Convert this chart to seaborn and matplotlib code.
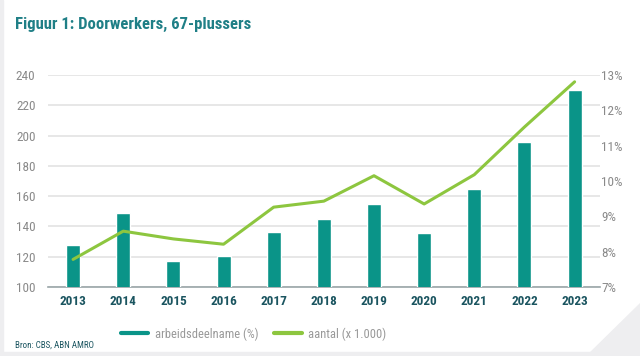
import numpy as np
import pandas as pd
import matplotlib
matplotlib.use("Agg")
import matplotlib.pyplot as plt
import seaborn as sns
from matplotlib.lines import Line2D
from matplotlib.patches import Polygon, Rectangle

# Data
jaren = ['2013', '2014', '2015', '2016', '2017', '2018', '2019', '2020', '2021', '2022', '2023']
arbeidsdeelname = [127.5, 149, 117, 120.5, 136, 145, 155, 135.5, 165, 196, 230]
aantal = [7.78, 8.58, 8.36, 8.21, 9.26, 9.43, 10.15, 9.35, 10.18, 11.53, 12.81]

links_ticks = [100, 120, 140, 160, 180, 200, 220, 240]
rechts_ticks = [7, 8, 9, 10, 11, 12, 13]

teal = '#0a9488'
groen = '#8dc63f'
titel_kleur = '#1f7f86'
grijs = '#8a8a8a'
rand = '#eeeef0'

df = pd.DataFrame({'jaar': jaren, 'deelname': arbeidsdeelname, 'aantal': aantal})
df['pos'] = np.arange(len(df))

sns.set_style("white")
plt.rcParams['font.family'] = ['Roboto Condensed', 'Roboto', 'DejaVu Sans']

fig = plt.figure(figsize=(6.4, 3.56), dpi=100)

# lichtgrijze rand van de uitsnede
fig.patches.append(Rectangle((0, 0), 0.005, 1, transform=fig.transFigure,
                             color=rand, zorder=0))
fig.patches.append(Rectangle((0, 0), 1, 0.012, transform=fig.transFigure,
                             color=rand, zorder=0))
fig.patches.append(Polygon([(0.915, 0), (1, 0), (1, 0.15)], closed=True,
                           transform=fig.transFigure, color=rand, zorder=0))

ax = fig.add_axes([0.075, 0.194, 0.862, 0.595])
ax.patch.set_alpha(0)

sns.barplot(data=df, x='jaar', y='deelname', color=teal, width=0.28,
            saturation=1, ax=ax, zorder=3)
ax.set_ylim(100, 240)
ax.set_yticks(links_ticks)
ax.set_xlim(-0.5, 10.5)
ax.grid(axis='y', color='#e3e3e3', linewidth=1.2, zorder=0)
ax.set_axisbelow(True)
ax.set_xlabel('')
ax.set_ylabel('')
for s in ['top', 'right', 'left']:
    ax.spines[s].set_visible(False)
ax.spines['bottom'].set_color('#9aa5a8')
ax.spines['bottom'].set_linewidth(1.2)
ax.tick_params(axis='y', length=0, labelsize=9.5, labelcolor=grijs, pad=9)
ax.tick_params(axis='x', length=0, labelsize=9.5, pad=6)
for lbl in ax.get_xticklabels():
    lbl.set_fontweight('bold')
    lbl.set_color('#1b5560')

ax2 = ax.twinx()
sns.lineplot(data=df, x='pos', y='aantal', color=groen, linewidth=2.2, ax=ax2, zorder=4)
ax2.set_ylim(7, 13)
ax2.set_yticks(rechts_ticks)
ax2.set_yticklabels([f'{t}%' for t in rechts_ticks])
ax2.set_ylabel('')
ax2.set_xlabel('')
for s in ['top', 'right', 'left', 'bottom']:
    ax2.spines[s].set_visible(False)
ax2.tick_params(axis='y', length=0, labelsize=9.5, labelcolor=grijs, pad=1)

handles = [Line2D([0], [0], color=teal, linewidth=3),
           Line2D([0], [0], color=groen, linewidth=3)]
fig.legend(handles, ['arbeidsdeelname (%)', 'aantal (x 1.000)'],
           loc='center', bbox_to_anchor=(0.396, 0.062), ncol=2, frameon=False,
           fontsize=9, labelcolor='#999999', handlelength=2.2, columnspacing=1.3,
           handletextpad=0.5)

fig.text(0.024, 0.93, 'Figuur 1: Doorwerkers, 67-plussers', fontsize=12,
         fontweight='bold', color=titel_kleur, va='center')
fig.text(0.023, 0.03, 'Bron: CBS, ABN AMRO', fontsize=6.5, color='#1b5560', va='center')

fig.savefig('out.png', dpi=100)
